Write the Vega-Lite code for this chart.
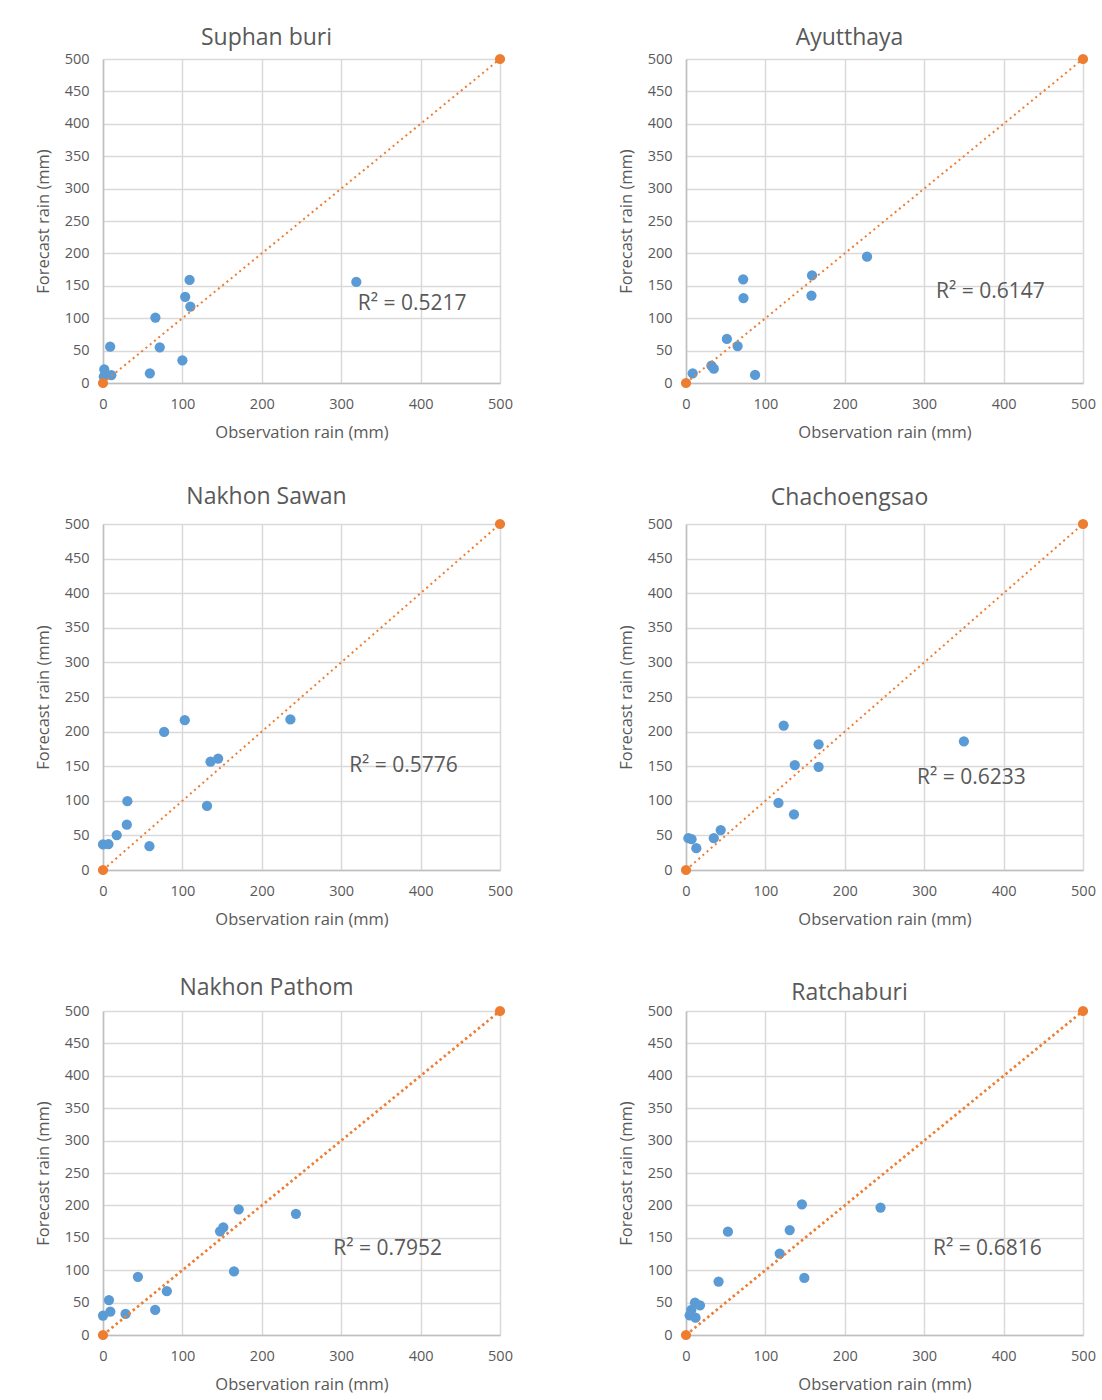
{
  "$schema": "https://vega.github.io/schema/vega-lite/v6.json",
  "background": "white",
  "padding": {"left": 35, "top": 27, "right": 5, "bottom": 5},
  "bounds": "flush",
  "align": "each",
  "columns": 2,
  "spacing": {"row": 141, "column": 186},
  "config": {
    "view": {"stroke": null},
    "font": "Open Sans",
    "title": {"font": "Open Sans", "fontSize": 23, "fontWeight": "normal", "color": "#595959", "anchor": "middle", "dx": -35},
    "axis": {
      "grid": true, "gridColor": "#d9d9d9", "gridWidth": 1.5,
      "domainColor": "#bfbfbf", "domainWidth": 1.5,
      "ticks": false, "labelFlush": false, "labelOverlap": false,
      "labelFont": "Open Sans", "labelFontSize": 14.5, "labelColor": "#595959", "labelPadding": 14,
      "titleFont": "Open Sans", "titleFontSize": 16.5, "titleColor": "#595959", "titleFontWeight": "normal"
    },
    "axisY": {"minExtent": 40, "maxExtent": 40, "titlePadding": 12},
    "axisX": {"titlePadding": 14}
  },
  "concat": [
    {
      "width": 397, "height": 324,
      "title": {"text": "Suphan buri", "offset": 1},
      "encoding": {
        "x": {"field": "x", "type": "quantitative", "scale": {"domain": [0, 500], "nice": false}, "axis": {"values": [0, 100, 200, 300, 400, 500], "title": "Observation rain (mm)"}},
        "y": {"field": "y", "type": "quantitative", "scale": {"domain": [0, 500], "nice": false}, "axis": {"values": [0, 50, 100, 150, 200, 250, 300, 350, 400, 450, 500], "title": "Forecast rain (mm)"}}
      },
      "layer": [
        {"data": {"values": [{"x": 109, "y": 159}, {"x": 103.5, "y": 133}, {"x": 110, "y": 118}, {"x": 66, "y": 101}, {"x": 9, "y": 56}, {"x": 71.5, "y": 55}, {"x": 100, "y": 35}, {"x": 59, "y": 15}, {"x": 1.6, "y": 21}, {"x": 10.5, "y": 12}, {"x": 1, "y": 10}, {"x": 319, "y": 156}]},
         "mark": {"type": "circle", "color": "#5b9bd5", "size": 105, "opacity": 1}},
        {"data": {"values": [{"x": 0, "y": 0}, {"x": 500, "y": 500}]},
         "mark": {"type": "line", "color": "#ed7d31", "strokeWidth": 2, "strokeDash": [2, 3.5]}},
        {"data": {"values": [{"x": 0, "y": 0}, {"x": 500, "y": 500}]},
         "mark": {"type": "circle", "color": "#ed7d31", "size": 105, "opacity": 1}},
        {"data": {"values": [{"x": 321, "y": 122, "t": "R² = 0.5217"}]},
         "mark": {"type": "text", "align": "left", "baseline": "middle", "fontSize": 21, "font": "Open Sans", "color": "#595959"},
         "encoding": {"text": {"field": "t"}}}
      ]
    },
    {
      "width": 397, "height": 324,
      "title": {"text": "Ayutthaya", "offset": 1},
      "encoding": {
        "x": {"field": "x", "type": "quantitative", "scale": {"domain": [0, 500], "nice": false}, "axis": {"values": [0, 100, 200, 300, 400, 500], "title": "Observation rain (mm)"}},
        "y": {"field": "y", "type": "quantitative", "scale": {"domain": [0, 500], "nice": false}, "axis": {"values": [0, 50, 100, 150, 200, 250, 300, 350, 400, 450, 500], "title": "Forecast rain (mm)"}}
      },
      "layer": [
        {"data": {"values": [{"x": 72, "y": 160}, {"x": 72.4, "y": 131}, {"x": 158.7, "y": 166}, {"x": 158, "y": 135}, {"x": 228, "y": 195}, {"x": 51.5, "y": 68}, {"x": 65, "y": 57}, {"x": 32, "y": 27}, {"x": 35, "y": 22}, {"x": 8.4, "y": 15}, {"x": 87, "y": 12.4}]},
         "mark": {"type": "circle", "color": "#5b9bd5", "size": 105, "opacity": 1}},
        {"data": {"values": [{"x": 0, "y": 0}, {"x": 500, "y": 500}]},
         "mark": {"type": "line", "color": "#ed7d31", "strokeWidth": 2, "strokeDash": [2, 3.5]}},
        {"data": {"values": [{"x": 0, "y": 0}, {"x": 500, "y": 500}]},
         "mark": {"type": "circle", "color": "#ed7d31", "size": 105, "opacity": 1}},
        {"data": {"values": [{"x": 315, "y": 140, "t": "R² = 0.6147"}]},
         "mark": {"type": "text", "align": "left", "baseline": "middle", "fontSize": 21, "font": "Open Sans", "color": "#595959"},
         "encoding": {"text": {"field": "t"}}}
      ]
    },
    {
      "width": 397, "height": 346,
      "title": {"text": "Nakhon Sawan", "offset": 7},
      "encoding": {
        "x": {"field": "x", "type": "quantitative", "scale": {"domain": [0, 500], "nice": false}, "axis": {"values": [0, 100, 200, 300, 400, 500], "title": "Observation rain (mm)"}},
        "y": {"field": "y", "type": "quantitative", "scale": {"domain": [0, 500], "nice": false}, "axis": {"values": [0, 50, 100, 150, 200, 250, 300, 350, 400, 450, 500], "title": "Forecast rain (mm)"}}
      },
      "layer": [
        {"data": {"values": [{"x": 103, "y": 216.5}, {"x": 77, "y": 199.6}, {"x": 236, "y": 217.5}, {"x": 135.4, "y": 156.5}, {"x": 145, "y": 161}, {"x": 131, "y": 92.6}, {"x": 30.7, "y": 99.4}, {"x": 30, "y": 65.4}, {"x": 17.3, "y": 50.4}, {"x": 0, "y": 37}, {"x": 6.8, "y": 37.3}, {"x": 58.5, "y": 34.4}]},
         "mark": {"type": "circle", "color": "#5b9bd5", "size": 105, "opacity": 1}},
        {"data": {"values": [{"x": 0, "y": 0}, {"x": 500, "y": 500}]},
         "mark": {"type": "line", "color": "#ed7d31", "strokeWidth": 2, "strokeDash": [2, 3.5]}},
        {"data": {"values": [{"x": 0, "y": 0}, {"x": 500, "y": 500}]},
         "mark": {"type": "circle", "color": "#ed7d31", "size": 105, "opacity": 1}},
        {"data": {"values": [{"x": 310, "y": 150, "t": "R² = 0.5776"}]},
         "mark": {"type": "text", "align": "left", "baseline": "middle", "fontSize": 21, "font": "Open Sans", "color": "#595959"},
         "encoding": {"text": {"field": "t"}}}
      ]
    },
    {
      "width": 397, "height": 346,
      "title": {"text": "Chachoengsao", "offset": 6},
      "encoding": {
        "x": {"field": "x", "type": "quantitative", "scale": {"domain": [0, 500], "nice": false}, "axis": {"values": [0, 100, 200, 300, 400, 500], "title": "Observation rain (mm)"}},
        "y": {"field": "y", "type": "quantitative", "scale": {"domain": [0, 500], "nice": false}, "axis": {"values": [0, 50, 100, 150, 200, 250, 300, 350, 400, 450, 500], "title": "Forecast rain (mm)"}}
      },
      "layer": [
        {"data": {"values": [{"x": 123, "y": 208.8}, {"x": 167, "y": 181.6}, {"x": 137, "y": 151.7}, {"x": 167, "y": 149.2}, {"x": 350, "y": 186}, {"x": 116.4, "y": 97}, {"x": 136, "y": 80.5}, {"x": 43.7, "y": 57.7}, {"x": 35, "y": 46}, {"x": 3, "y": 46}, {"x": 7, "y": 44.6}, {"x": 13, "y": 31.5}]},
         "mark": {"type": "circle", "color": "#5b9bd5", "size": 105, "opacity": 1}},
        {"data": {"values": [{"x": 0, "y": 0}, {"x": 500, "y": 500}]},
         "mark": {"type": "line", "color": "#ed7d31", "strokeWidth": 2, "strokeDash": [2, 3.5]}},
        {"data": {"values": [{"x": 0, "y": 0}, {"x": 500, "y": 500}]},
         "mark": {"type": "circle", "color": "#ed7d31", "size": 105, "opacity": 1}},
        {"data": {"values": [{"x": 291, "y": 133, "t": "R² = 0.6233"}]},
         "mark": {"type": "text", "align": "left", "baseline": "middle", "fontSize": 21, "font": "Open Sans", "color": "#595959"},
         "encoding": {"text": {"field": "t"}}}
      ]
    },
    {
      "width": 397, "height": 324,
      "title": {"text": "Nakhon Pathom", "offset": 3},
      "encoding": {
        "x": {"field": "x", "type": "quantitative", "scale": {"domain": [0, 500], "nice": false}, "axis": {"values": [0, 100, 200, 300, 400, 500], "title": "Observation rain (mm)"}},
        "y": {"field": "y", "type": "quantitative", "scale": {"domain": [0, 500], "nice": false}, "axis": {"values": [0, 50, 100, 150, 200, 250, 300, 350, 400, 450, 500], "title": "Forecast rain (mm)"}}
      },
      "layer": [
        {"data": {"values": [{"x": 170.9, "y": 193.9}, {"x": 243, "y": 187}, {"x": 151.5, "y": 166}, {"x": 147.4, "y": 160}, {"x": 165, "y": 98}, {"x": 44, "y": 89.7}, {"x": 80.4, "y": 67.6}, {"x": 7.5, "y": 54}, {"x": 9.2, "y": 36}, {"x": 0, "y": 30}, {"x": 28.4, "y": 32.5}, {"x": 65.7, "y": 38.7}]},
         "mark": {"type": "circle", "color": "#5b9bd5", "size": 105, "opacity": 1}},
        {"data": {"values": [{"x": 0, "y": 0}, {"x": 500, "y": 500}]},
         "mark": {"type": "line", "color": "#ed7d31", "strokeWidth": 2.7, "strokeDash": [2.5, 3]}},
        {"data": {"values": [{"x": 0, "y": 0}, {"x": 500, "y": 500}]},
         "mark": {"type": "circle", "color": "#ed7d31", "size": 105, "opacity": 1}},
        {"data": {"values": [{"x": 290, "y": 132, "t": "R² = 0.7952"}]},
         "mark": {"type": "text", "align": "left", "baseline": "middle", "fontSize": 21, "font": "Open Sans", "color": "#595959"},
         "encoding": {"text": {"field": "t"}}}
      ]
    },
    {
      "width": 397, "height": 324,
      "title": {"text": "Ratchaburi", "offset": -2},
      "encoding": {
        "x": {"field": "x", "type": "quantitative", "scale": {"domain": [0, 500], "nice": false}, "axis": {"values": [0, 100, 200, 300, 400, 500], "title": "Observation rain (mm)"}},
        "y": {"field": "y", "type": "quantitative", "scale": {"domain": [0, 500], "nice": false}, "axis": {"values": [0, 50, 100, 150, 200, 250, 300, 350, 400, 450, 500], "title": "Forecast rain (mm)"}}
      },
      "layer": [
        {"data": {"values": [{"x": 146, "y": 201.7}, {"x": 245, "y": 196.6}, {"x": 130.6, "y": 162}, {"x": 52.8, "y": 159.5}, {"x": 118, "y": 125.6}, {"x": 149, "y": 88}, {"x": 41, "y": 82.4}, {"x": 11.3, "y": 50}, {"x": 17.6, "y": 45.8}, {"x": 4.6, "y": 30.4}, {"x": 12, "y": 26.8}, {"x": 6.7, "y": 38.6}]},
         "mark": {"type": "circle", "color": "#5b9bd5", "size": 105, "opacity": 1}},
        {"data": {"values": [{"x": 0, "y": 0}, {"x": 500, "y": 500}]},
         "mark": {"type": "line", "color": "#ed7d31", "strokeWidth": 2.7, "strokeDash": [2.5, 3]}},
        {"data": {"values": [{"x": 0, "y": 0}, {"x": 500, "y": 500}]},
         "mark": {"type": "circle", "color": "#ed7d31", "size": 105, "opacity": 1}},
        {"data": {"values": [{"x": 311, "y": 132, "t": "R² = 0.6816"}]},
         "mark": {"type": "text", "align": "left", "baseline": "middle", "fontSize": 21, "font": "Open Sans", "color": "#595959"},
         "encoding": {"text": {"field": "t"}}}
      ]
    }
  ]
}
